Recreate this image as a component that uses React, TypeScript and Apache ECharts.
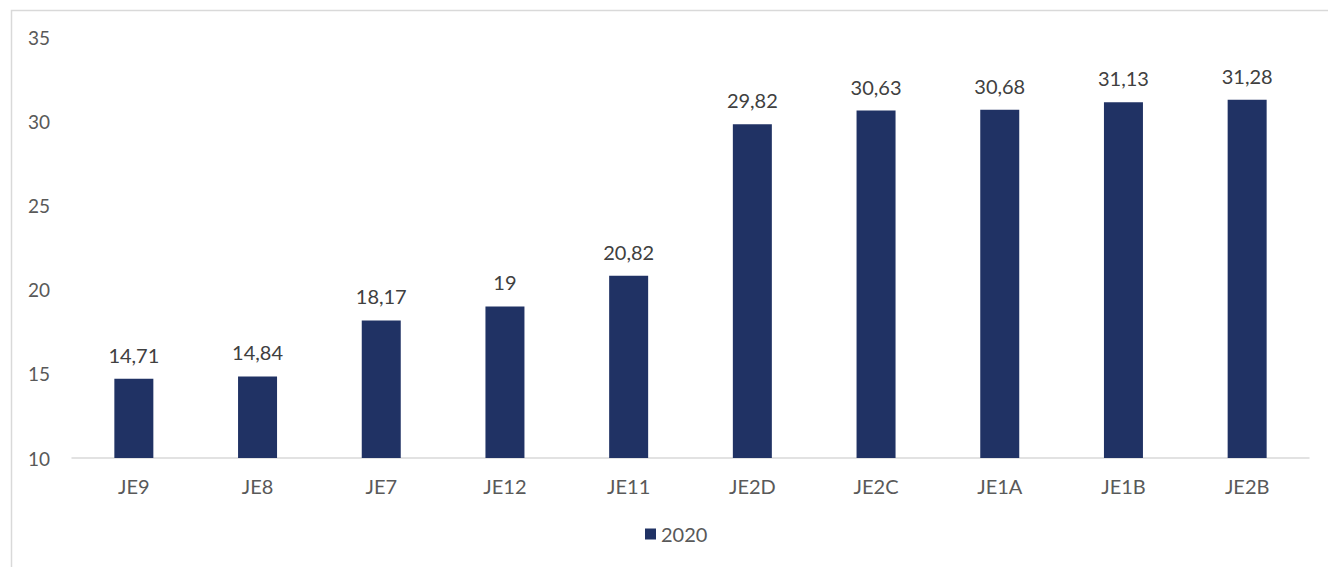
import React, { useEffect, useRef } from "react";
import * as echarts from "echarts";

const categories = ["JE9", "JE8", "JE7", "JE12", "JE11", "JE2D", "JE2C", "JE1A", "JE1B", "JE2B"];
const values2020 = [14.71, 14.84, 18.17, 19, 20.82, 29.82, 30.63, 30.68, 31.13, 31.28];
const seriesName = "2020";

export default function App() {
  const ref = useRef<HTMLDivElement>(null);
  useEffect(() => {
    if (!ref.current) return;
    const chart = echarts.init(ref.current, undefined, { renderer: "svg" });
    const font = "Lato, 'Open Sans', sans-serif";
    chart.setOption({
      animation: false,
      backgroundColor: "#ffffff",
      graphic: [
        {
          type: "rect",
          shape: { x: 11.5, y: 10.5, width: 1400, height: 700 },
          style: { fill: "none", stroke: "#d9d9d9", lineWidth: 1.5 },
          silent: true,
          z: -1,
        },
      ],
      grid: { left: 72, right: 19, top: 37, bottom: 109 },
      legend: {
        bottom: 18,
        left: 640,
        itemWidth: 11,
        itemHeight: 11,
        itemGap: 6,
        icon: "rect",
        textStyle: { color: "#595959", fontSize: 20, fontFamily: font },
        data: [seriesName],
      },
      xAxis: {
        type: "category",
        data: categories,
        axisLine: { lineStyle: { color: "#d9d9d9", width: 1.5 } },
        axisTick: { show: false },
        axisLabel: { color: "#595959", fontSize: 20, fontFamily: font, margin: 18 },
      },
      yAxis: {
        type: "value",
        min: 10,
        max: 35,
        interval: 5,
        axisLine: { show: false },
        axisTick: { show: false },
        splitLine: { show: false },
        axisLabel: { color: "#595959", fontSize: 19, fontFamily: font, margin: 22, align: "right" },
      },
      series: [
        {
          name: seriesName,
          type: "bar",
          data: values2020,
          barWidth: 39,
          itemStyle: { color: "#203264" },
          label: {
            show: true,
            position: "top",
            distance: 14,
            color: "#404040",
            fontSize: 20,
            fontFamily: font,
            formatter: (p: any) => String(p.value).replace(".", ","),
          },
        },
      ],
    });
    return () => chart.dispose();
  }, []);
  return (
    <div style={{ position: "absolute", left: 0, top: 0, width: 1328, height: 567 }}>
      <div ref={ref} style={{ width: 1328, height: 567 }} />
    </div>
  );
}
